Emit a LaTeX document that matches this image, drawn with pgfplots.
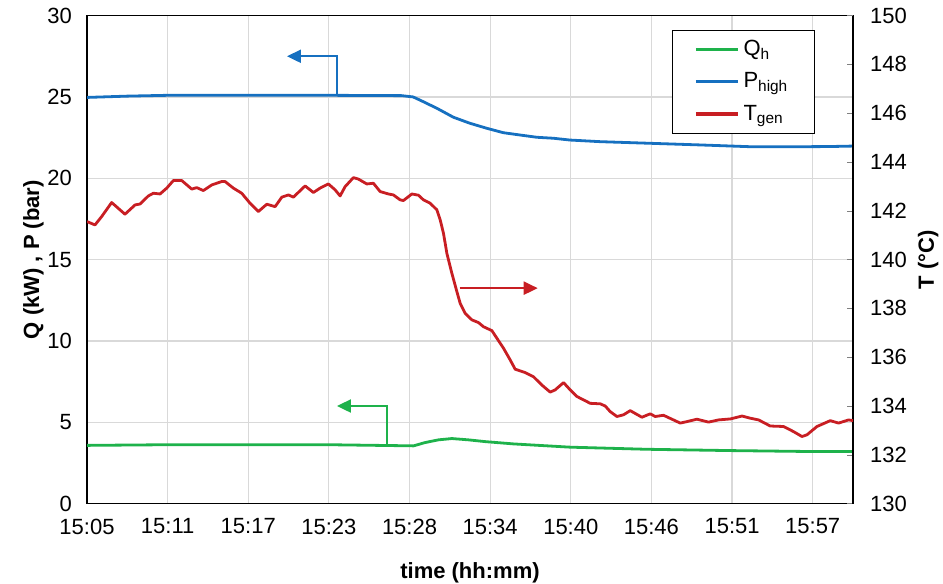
\documentclass[border=0pt]{standalone}
\usepackage{pgfplots}
\pgfplotsset{compat=1.18}
\usepackage{fontspec}
\setmainfont{Liberation Sans}
\usetikzlibrary{arrows.meta}
\definecolor{cgreen}{RGB}{30,178,75}
\definecolor{cblue}{RGB}{22,112,192}
\definecolor{cred}{RGB}{200,30,35}
\definecolor{cgrid}{RGB}{217,217,217}
\newcommand{\tfont}{\fontsize{11}{13}\selectfont}
\newcommand{\lfont}{\fontsize{11}{13}\selectfont\bfseries}
\begin{document}
\begin{tikzpicture}
\pgfplotsset{
  common/.style={
    scale only axis, width=383pt, height=244pt,
    xmin=0, xmax=9.5,
    /pgf/number format/assume math mode=true,
    tick label style={font=\tfont},
  }
}
\begin{axis}[common, name=main,
  ymin=0, ymax=30, ytick={0,5,...,30},
  xtick={0,...,9},
  xticklabels={15:05,15:11,15:17,15:23,15:28,15:34,15:40,15:46,15:51,15:57},
  major tick length=0pt,
  xtick pos=bottom, ytick pos=left,
  grid=major, major grid style={cgrid, line width=0.6pt},
  axis line style={line width=0.7pt},
  yticklabel style={xshift=-4pt},
  xticklabel style={yshift=-4pt},
  ylabel={Q (kW) , P (bar)},
  every axis y label/.style={at={(axis description cs:-0.07,0.5)}, rotate=90, anchor=center, font=\lfont},
  xlabel={time (hh:mm)},
  every axis x label/.style={at={(axis description cs:0.5,-0.142)}, anchor=center, font=\lfont},
]
\addplot[cgreen, line width=1.4pt, line join=round] coordinates {
(0,3.58) (1,3.62) (2,3.62) (3,3.62) (3.9,3.56) (4.05,3.55) (4.19,3.75) (4.36,3.92) (4.525,4.0) (4.73,3.92) (4.94,3.81) (5.29,3.67) (5.99,3.47) (6.94,3.34) (7.98,3.26) (9.01,3.20) (9.5,3.2)
};
\addplot[cblue, line width=1.4pt, line join=round] coordinates {
(0,24.97) (0.5,25.05) (1.0,25.1) (2.0,25.1) (3.0,25.1) (3.9,25.08) (4.045,25.0) (4.17,24.71) (4.34,24.30) (4.545,23.75) (4.75,23.38) (4.96,23.07) (5.165,22.80) (5.37,22.66) (5.58,22.52) (5.785,22.46) (5.99,22.35) (6.365,22.25) (6.985,22.15) (7.6,22.05) (8.226,21.94) (8.846,21.94) (9.2,21.95) (9.5,21.98)
};
\draw[cblue, line width=1.1pt, -{Triangle[length=7pt,width=6.5pt]}] (axis cs:3.10,25.1) -- (axis cs:3.10,27.5) -- (axis cs:2.48,27.5);
\draw[cgreen, line width=1.1pt, -{Triangle[length=7pt,width=6.5pt]}] (axis cs:3.72,3.62) -- (axis cs:3.72,6.0) -- (axis cs:3.10,6.0);
\end{axis}
\begin{axis}[common,
  ymin=130, ymax=150, ytick={130,132,...,150},
  axis x line=none, axis y line*=right,
  axis line style={line width=0.7pt},
  tick align=inside, major tick length=3pt,
  yticklabel style={xshift=5pt},
  ylabel={T (°C)},
  every axis y label/.style={at={(axis description cs:1.098,0.5)}, rotate=90, anchor=center, font=\lfont},
  legend style={at={(rel axis cs:0.95,0.9705)}, anchor=north east, draw=black,
    font=\tfont, inner xsep=11pt, inner ysep=3pt, row sep=3pt},
  legend cell align=left,
  legend image code/.code={\draw[#1, line width=1.6pt] (0pt,0pt) -- (21pt,0pt);},
]
\addlegendimage{cgreen}
\addlegendentry{Q\textsubscript{h}}
\addlegendimage{cblue}
\addlegendentry{P\textsubscript{high}}
\addplot[cred, line width=1.4pt, line join=round] coordinates {
(0,141.56) (0.099,141.42) (0.181,141.76) (0.306,142.34) (0.471,141.86) (0.596,142.24) (0.658,142.28) (0.761,142.61) (0.823,142.72) (0.906,142.69) (0.989,142.93) (1.071,143.24) (1.175,143.24) (1.299,142.89) (1.361,142.95) (1.443,142.83) (1.547,143.06) (1.671,143.20) (1.712,143.20) (1.815,142.93) (1.919,142.72) (2.022,142.31) (2.125,141.97) (2.230,142.27) (2.333,142.17) (2.416,142.56) (2.498,142.65) (2.560,142.56) (2.705,143.02) (2.808,142.75) (2.891,142.93) (2.994,143.10) (3.077,142.86) (3.139,142.61) (3.201,142.99) (3.304,143.36) (3.366,143.30) (3.470,143.10) (3.552,143.13) (3.635,142.79) (3.738,142.69) (3.800,142.65) (3.883,142.45) (3.924,142.42) (4.029,142.69) (4.110,142.64) (4.172,142.45) (4.256,142.31) (4.339,142.04) (4.380,141.63) (4.421,141.08) (4.463,140.26) (4.525,139.44) (4.587,138.69) (4.628,138.21) (4.690,137.80) (4.773,137.53) (4.855,137.42) (4.917,137.25) (5.021,137.09) (5.083,136.78) (5.165,136.37) (5.248,135.89) (5.310,135.51) (5.434,135.37) (5.537,135.20) (5.641,134.86) (5.744,134.57) (5.806,134.66) (5.910,134.96) (5.993,134.66) (6.076,134.39) (6.158,134.25) (6.241,134.11) (6.365,134.09) (6.427,134.00) (6.489,133.77) (6.572,133.57) (6.654,133.64) (6.737,133.81) (6.882,133.54) (6.985,133.68) (7.047,133.57) (7.150,133.62) (7.254,133.46) (7.357,133.30) (7.440,133.36) (7.564,133.46) (7.708,133.34) (7.832,133.43) (7.978,133.47) (8.123,133.59) (8.226,133.50) (8.329,133.43) (8.474,133.18) (8.639,133.16) (8.763,132.95) (8.867,132.75) (8.929,132.82) (9.053,133.16) (9.218,133.40) (9.321,133.30) (9.445,133.43) (9.504,133.40)
};
\addlegendentry{T\textsubscript{gen}}
\draw[cred, line width=1.1pt, -{Triangle[length=7pt,width=6.5pt]}] (axis cs:4.62,138.83) -- (axis cs:5.59,138.83);
\end{axis}
\pgfresetboundingbox
\path ([xshift=-43.5pt,yshift=-40.15pt]main.south west) rectangle ([xshift=45pt,yshift=7.8pt]main.north east);
\end{tikzpicture}
\end{document}
